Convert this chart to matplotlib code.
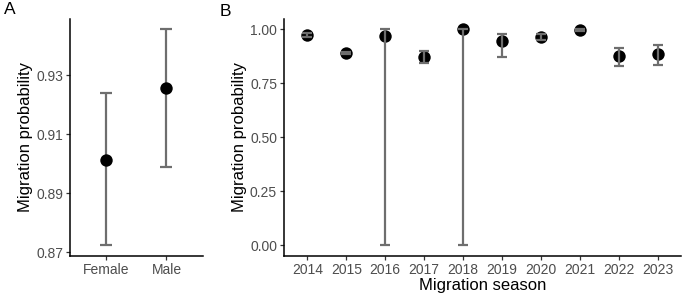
import numpy as np
import matplotlib.pyplot as plt

plt.rcParams['font.family'] = ['Liberation Sans', 'DejaVu Sans']

# panel A: sex
sexes = ["Female", "Male"]
sex_est = [0.9012, 0.9256]
sex_lo = [0.8723, 0.8989]
sex_hi = [0.9242, 0.9457]

# panel B: migration season
seasons = ["2014", "2015", "2016", "2017", "2018", "2019", "2020", "2021", "2022", "2023"]
season_est = [0.974, 0.892, 0.969, 0.873, 1.000, 0.946, 0.964, 0.998, 0.876, 0.887]
season_lo = [0.963, 0.887, 0.000, 0.842, 0.000, 0.870, 0.950, 0.990, 0.828, 0.834]
season_hi = [0.985, 0.897, 1.000, 0.901, 1.000, 0.980, 0.978, 1.000, 0.913, 0.926]

a_ticks = [0.87, 0.89, 0.91, 0.93]
b_ticks = [0.0, 0.25, 0.5, 0.75, 1.0]

ERR_COL = "#6e6e6e"
TICK_COL = "#4d4d4d"


def gg_limits(lo, hi, mult=0.05):
    lo, hi = min(lo), max(hi)
    pad = (hi - lo) * mult
    return lo - pad, hi + pad


def style_axis(ax):
    for s in ["top", "right"]:
        ax.spines[s].set_visible(False)
    for s in ["left", "bottom"]:
        ax.spines[s].set_linewidth(1.1)
        ax.spines[s].set_color("black")
    ax.tick_params(axis="both", length=3, width=0.9, color="#333333",
                   labelsize=10, labelcolor=TICK_COL, pad=2)


def panel(ax, labels, est, lo, hi, ticks, fmt, bars_on_top, cap):
    x = np.arange(len(labels))
    est = np.array(est)
    lo = np.array(lo)
    hi = np.array(hi)
    ax.errorbar(x, est, yerr=[est - lo, hi - est], fmt="none", ecolor=ERR_COL,
                elinewidth=1.6, capsize=cap, capthick=1.6,
                zorder=3 if bars_on_top else 1)
    ax.scatter(x, est, s=80, color="black", zorder=2, linewidths=0)
    ax.set_xlim(-0.6, len(labels) - 0.4)
    ax.set_ylim(*gg_limits(lo, hi))
    ax.set_xticks(x)
    ax.set_xticklabels(labels)
    ax.set_yticks(ticks)
    ax.set_yticklabels([fmt.format(t) for t in ticks])
    style_axis(ax)


fig = plt.figure(figsize=(6.85, 2.96), dpi=100)
ax1 = fig.add_axes([0.1022, 0.135, 0.1936, 0.8025])
ax2 = fig.add_axes([0.4146, 0.135, 0.5796, 0.8025])

panel(ax1, sexes, sex_est, sex_lo, sex_hi, a_ticks, "{:.2f}", False, 4.3)
ax1.set_ylabel("Migration probability", fontsize=12, labelpad=2)

panel(ax2, seasons, season_est, season_lo, season_hi, b_ticks, "{:.2f}", True, 3.8)
ax2.set_ylabel("Migration probability", fontsize=12, labelpad=2)
ax2.set_xlabel("Migration season", fontsize=12, labelpad=1)

fig.text(0.006, 0.992, "A", fontsize=12.5, va="top", ha="left")
fig.text(0.32, 0.985, "B", fontsize=12.5, va="top", ha="left")

fig.savefig("out.png", dpi=100)
